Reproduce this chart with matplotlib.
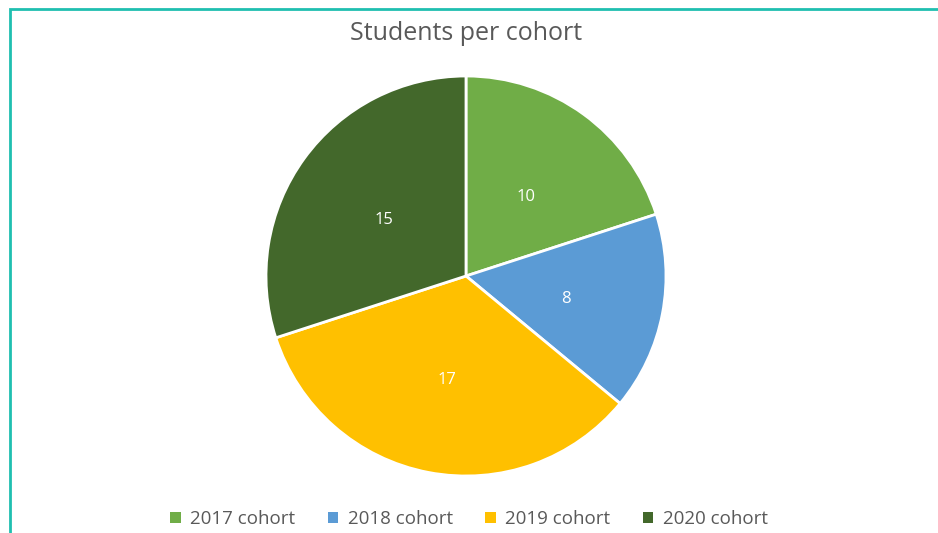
import matplotlib.pyplot as plt
from matplotlib.patches import Rectangle, Patch

plt.rcParams.update({'font.family': 'Open Sans'})

cohorts = ['2017 cohort', '2018 cohort', '2019 cohort', '2020 cohort']
students = [10, 8, 17, 15]
colors = ['#70AD47', '#5B9BD5', '#FFC000', '#43682B']

fig = plt.figure(figsize=(9.38, 5.33), dpi=100, facecolor='white')

# teal frame (left and top edges visible)
fig.add_artist(Rectangle((10/938, -0.1), 1.2, 1 - 9/533 + 0.1, transform=fig.transFigure,
                         fill=False, edgecolor='#1FBFB0', lw=2))

ax = fig.add_axes([(466-200)/938, (533-476)/533, 400/938, 400/533])
wedges, texts, autotexts = ax.pie(students, colors=colors, startangle=90, counterclock=False,
                                  autopct=lambda p: '{:.0f}'.format(p*sum(students)/100),
                                  pctdistance=0.51,
                                  wedgeprops={'edgecolor': 'white', 'linewidth': 2})
for t in autotexts:
    t.set_color('white')
    t.set_fontsize(12)
    x, y = t.get_position()
    t.set_position((x, y - 0.02))
ax.set_xlim(-1, 1)
ax.set_ylim(-1, 1)
ax.set_aspect('equal')

fig.text(466/938, 1 - 33/533, 'Students per cohort', ha='center', va='center',
         fontsize=18, color='#595959')

handles = [Patch(facecolor=c, edgecolor='none') for c in colors]
fig.legend(handles, cohorts, loc='center', bbox_to_anchor=(469/938, 1 - 519/533), ncol=4,
           frameon=False, fontsize=13.5, labelcolor='#595959', handlelength=0.55, handleheight=0.55,
           handletextpad=0.5, columnspacing=1.75)

fig.savefig('out.png', dpi=100)
